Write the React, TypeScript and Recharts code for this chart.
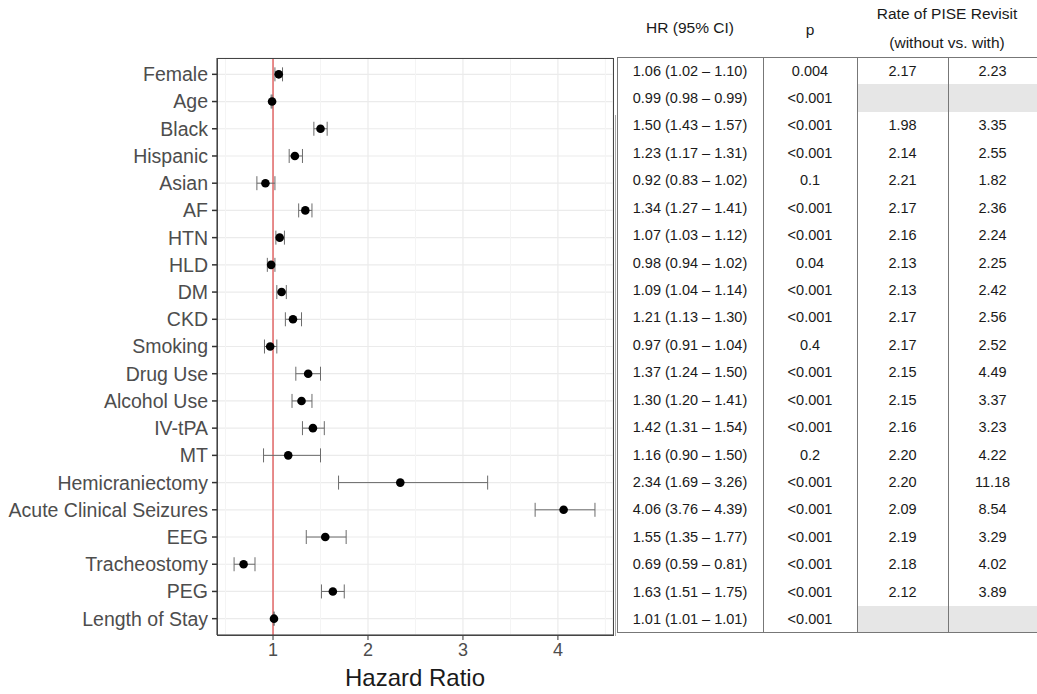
import React from 'react';
import { ScatterChart, Scatter, XAxis, YAxis, CartesianGrid, ReferenceLine, ErrorBar } from 'recharts';

// forest plot rows, top to bottom
const variables = [
  'Female', 'Age', 'Black', 'Hispanic', 'Asian', 'AF', 'HTN', 'HLD', 'DM', 'CKD', 'Smoking',
  'Drug Use', 'Alcohol Use', 'IV-tPA', 'MT', 'Hemicraniectomy', 'Acute Clinical Seizures',
  'EEG', 'Tracheostomy', 'PEG', 'Length of Stay',
];
const hazardRatio = [1.06, 0.99, 1.5, 1.23, 0.92, 1.34, 1.07, 0.98, 1.09, 1.21, 0.97, 1.37, 1.3, 1.42, 1.16, 2.34, 4.06, 1.55, 0.69, 1.63, 1.01];
const ciLower = [1.02, 0.98, 1.43, 1.17, 0.83, 1.27, 1.03, 0.94, 1.04, 1.13, 0.91, 1.24, 1.2, 1.31, 0.9, 1.69, 3.76, 1.35, 0.59, 1.51, 1.01];
const ciUpper = [1.1, 0.99, 1.57, 1.31, 1.02, 1.41, 1.12, 1.02, 1.14, 1.3, 1.04, 1.5, 1.41, 1.54, 1.5, 3.26, 4.39, 1.77, 0.81, 1.75, 1.01];
const pValues = ['0.004', '<0.001', '<0.001', '<0.001', '0.1', '<0.001', '<0.001', '0.04', '<0.001', '<0.001', '0.4',
  '<0.001', '<0.001', '<0.001', '0.2', '<0.001', '<0.001', '<0.001', '<0.001', '<0.001', '<0.001'];
const rateWithout = [2.17, null, 1.98, 2.14, 2.21, 2.17, 2.16, 2.13, 2.13, 2.17, 2.17, 2.15, 2.15, 2.16, 2.2, 2.2, 2.09, 2.19, 2.18, 2.12, null];
const rateWith = [2.23, null, 3.35, 2.55, 1.82, 2.36, 2.24, 2.25, 2.42, 2.56, 2.52, 4.49, 3.37, 3.23, 4.22, 11.18, 8.54, 3.29, 4.02, 3.89, null];

const xTicks = [1, 2, 3, 4];
const xMinorTicks = [0.5, 1.5, 2.5, 3.5, 4.5];
const yPositions = variables.map((_, i) => i + 1);

const FONT = '"Liberation Sans", Arial, sans-serif';

const plotData = variables.map((name, i) => ({
  name,
  pos: i + 1,
  hr: hazardRatio[i],
  err: [hazardRatio[i] - ciLower[i], ciUpper[i] - hazardRatio[i]],
}));

// plot panel box (matches chart margins + axis sizes)
const PANEL = { left: 217, top: 58, right: 613, bottom: 635 };

// table layout
const TABLE_TOP = 57;
const TABLE_BOTTOM = 633;
const ROW_H = (TABLE_BOTTOM - TABLE_TOP) / variables.length;
const COLS = [617, 763, 857, 948, 1037];

const cellText: React.CSSProperties = {
  position: 'absolute',
  textAlign: 'center',
  fontSize: 14.5,
  lineHeight: '17px',
  color: '#1a1a1a',
  fontFamily: FONT,
  whiteSpace: 'nowrap',
};
const headText: React.CSSProperties = { ...cellText, fontSize: 15.5, lineHeight: '18px' };

function Dot(props: any) {
  return <circle cx={props.cx} cy={props.cy} r={4.3} fill="#000" />;
}

export default function App() {
  return (
    <div style={{ position: 'absolute', left: 0, top: 0, width: 1037, height: 694, background: '#fff', fontFamily: FONT }}>
      <ScatterChart width={1037} height={694} margin={{ top: PANEL.top, right: 1037 - PANEL.right, bottom: 0, left: 0 }}>
        <CartesianGrid stroke="#ebebeb" strokeWidth={1.2} />
        {xMinorTicks.map((v) => (
          <ReferenceLine key={v} x={v} stroke="#f4f4f4" strokeWidth={1} />
        ))}
        <XAxis
          type="number"
          dataKey="hr"
          domain={[0.41, 4.58]}
          ticks={xTicks}
          allowDataOverflow
          height={694 - PANEL.bottom}
          stroke="#333"
          tickSize={5}
          tickMargin={3}
          tick={{ fill: '#4d4d4d', fontSize: 18, fontFamily: FONT }}
          label={{ value: 'Hazard Ratio', position: 'insideBottom', offset: 8, fill: '#1a1a1a', fontSize: 24, fontFamily: FONT }}
        />
        <YAxis
          type="number"
          dataKey="pos"
          domain={[0.4, 21.6]}
          reversed
          ticks={yPositions}
          interval={0}
          width={PANEL.left}
          stroke="#333"
          tickSize={5}
          tickMargin={4}
          tickLine={{ stroke: '#333', strokeWidth: 1.5 }}
          tickFormatter={(v: number) => variables[v - 1]}
          tick={{ fill: '#4d4d4d', fontSize: 19.5, fontFamily: FONT }}
        />
        <ReferenceLine x={1} stroke="#e36868" strokeWidth={1.5} />
        <Scatter data={plotData} shape={<Dot />} isAnimationActive={false}>
          <ErrorBar dataKey="err" direction="x" width={7} stroke="#6b6b6b" strokeWidth={1} />
        </Scatter>
      </ScatterChart>

      {/* panel border */}
      <div
        style={{
          position: 'absolute', left: PANEL.left, top: PANEL.top,
          width: PANEL.right - PANEL.left + 1, height: PANEL.bottom - PANEL.top + 1,
          border: '1px solid #444', boxSizing: 'border-box', pointerEvents: 'none',
        }}
      />

      {/* table headers */}
      <div style={{ ...headText, left: COLS[0], width: COLS[1] - COLS[0], top: 19 }}>HR (95% CI)</div>
      <div style={{ ...headText, left: COLS[1], width: COLS[2] - COLS[1], top: 21 }}>p</div>
      <div style={{ ...headText, left: COLS[2], width: COLS[4] - COLS[2], top: 5 }}>Rate of PISE Revisit</div>
      <div style={{ ...headText, left: COLS[2], width: COLS[4] - COLS[2], top: 34 }}>(without vs. with)</div>

      {/* grey cells where no rate available */}
      {variables.map((_, i) =>
        rateWithout[i] === null ? (
          <div
            key={'g' + i}
            style={{ position: 'absolute', left: COLS[2], width: COLS[4] - COLS[2], top: TABLE_TOP + i * ROW_H, height: ROW_H, background: '#e6e6e6' }}
          />
        ) : null
      )}

      {/* table frame */}
      <div style={{ position: 'absolute', left: COLS[0], top: TABLE_TOP, width: COLS[4] - COLS[0], height: TABLE_BOTTOM - TABLE_TOP, borderTop: '1px solid #777', borderBottom: '1px solid #777', borderLeft: '1px solid #777', boxSizing: 'border-box' }} />
      {COLS.slice(1, 4).map((x) => (
        <div key={'c' + x} style={{ position: 'absolute', left: x, top: TABLE_TOP, width: 1, height: TABLE_BOTTOM - TABLE_TOP, background: '#777' }} />
      ))}
      <div style={{ position: 'absolute', left: 615, top: 115, width: 1, height: 521, background: '#aaa' }} />

      {/* table body */}
      {variables.map((name, i) => {
        const top = TABLE_TOP + i * ROW_H + 5.5;
        return (
          <React.Fragment key={name}>
            <div style={{ ...cellText, left: COLS[0], width: COLS[1] - COLS[0], top }}>
              {`${hazardRatio[i].toFixed(2)} (${ciLower[i].toFixed(2)} \u2013 ${ciUpper[i].toFixed(2)})`}
            </div>
            <div style={{ ...cellText, left: COLS[1], width: COLS[2] - COLS[1], top }}>{pValues[i]}</div>
            {rateWithout[i] !== null && (
              <div style={{ ...cellText, left: COLS[2], width: COLS[3] - COLS[2], top }}>{rateWithout[i]!.toFixed(2)}</div>
            )}
            {rateWith[i] !== null && (
              <div style={{ ...cellText, left: COLS[3], width: COLS[4] - COLS[3], top }}>{rateWith[i]!.toFixed(2)}</div>
            )}
          </React.Fragment>
        );
      })}
    </div>
  );
}
